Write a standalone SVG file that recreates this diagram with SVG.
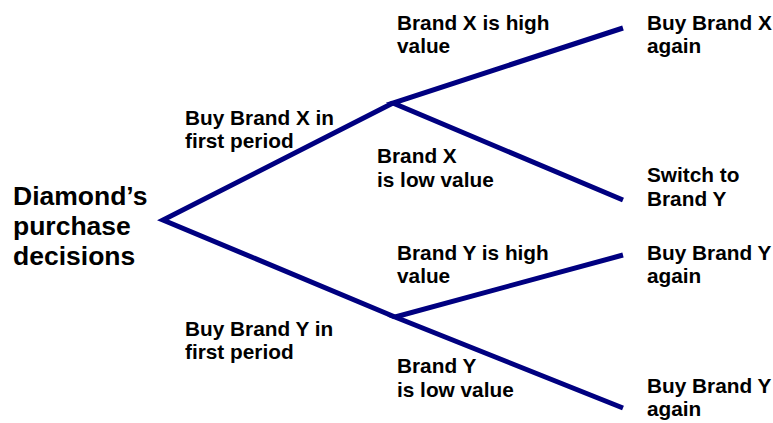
<svg xmlns="http://www.w3.org/2000/svg" width="773" height="423" viewBox="0 0 773 423">
<style>
.t{font-family:"Liberation Sans",Arial,sans-serif;font-weight:bold;fill:#000;font-size:20.8px}
.big{font-size:26.5px}
.c{stroke:#000080;stroke-width:5;fill:none;stroke-linecap:butt;stroke-linejoin:miter}
</style>
<rect width="773" height="423" fill="#fff"/>
<g id="connectors">
<polyline class="c" points="623,28 393,103 623,200"/>
<polyline class="c" points="393,103 163,220 395,317"/>
<polyline class="c" points="623,255 395,317 623,408"/>
</g>
<g id="root"><text class="t big"><tspan x="13" y="205">Diamond’s</tspan><tspan x="13" y="235">purchase</tspan><tspan x="13" y="265">decisions</tspan></text></g>
<g id="edge-x"><text class="t"><tspan x="185" y="125">Buy Brand X in</tspan><tspan x="185" y="148">first period</tspan></text></g>
<g id="edge-y"><text class="t"><tspan x="185" y="336">Buy Brand Y in</tspan><tspan x="185" y="359">first period</tspan></text></g>
<g id="edge-xhigh"><text class="t"><tspan x="397" y="30">Brand X is high</tspan><tspan x="397" y="53">value</tspan></text></g>
<g id="edge-xlow"><text class="t"><tspan x="377" y="163">Brand X</tspan><tspan x="377" y="186.5">is low value</tspan></text></g>
<g id="edge-yhigh"><text class="t"><tspan x="397" y="260">Brand Y is high</tspan><tspan x="397" y="283">value</tspan></text></g>
<g id="edge-ylow"><text class="t"><tspan x="397" y="373">Brand Y</tspan><tspan x="397" y="396.5">is low value</tspan></text></g>
<g id="leaf1"><text class="t"><tspan x="647" y="30">Buy Brand X</tspan><tspan x="647" y="53">again</tspan></text></g>
<g id="leaf2"><text class="t"><tspan x="647" y="182">Switch to</tspan><tspan x="647" y="206">Brand Y</tspan></text></g>
<g id="leaf3"><text class="t"><tspan x="647" y="260">Buy Brand Y</tspan><tspan x="647" y="283">again</tspan></text></g>
<g id="leaf4"><text class="t"><tspan x="647" y="392.5">Buy Brand Y</tspan><tspan x="647" y="415.5">again</tspan></text></g>
</svg>
